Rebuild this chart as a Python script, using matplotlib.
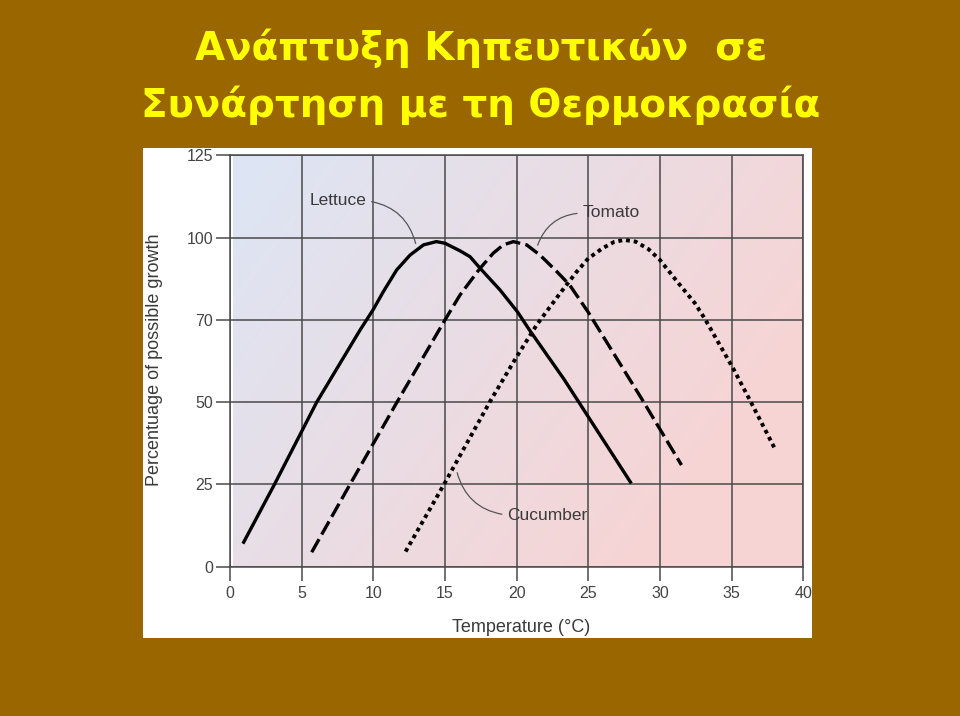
import matplotlib
matplotlib.use("Agg")
import matplotlib.pyplot as plt
import numpy as np
from matplotlib.patches import Rectangle

# values
lettuce_t = [0.9, 3.1, 6.05, 9.07, 10.0, 10.7, 11.63, 12.56, 13.5, 14.4, 15.0, 16.05,
             16.75, 17.45, 18.84, 20.05, 20.9, 23.3, 28.0]
lettuce_v = [7, 25, 50, 71.9, 78.2, 83.6, 90.2, 94.7, 97.8, 98.8, 98.3, 96.0,
             94.2, 90.7, 84.1, 77.5, 71.9, 57.0, 25.3]

tomato_t = [5.7, 8.37, 11.65, 15.0, 16.05, 17.45, 18.37, 19.07, 19.77, 20.7, 21.63,
            22.8, 23.7, 25.0, 26.7, 28.7, 31.5]
tomato_v = [4.4, 25, 50, 75, 82.6, 90.7, 95.3, 97.8, 98.8, 97.8, 94.7,
            89.7, 85.6, 77.3, 65.3, 51.2, 30.9]

cucumber_t = [12.25, 14.93, 18.14, 20.0, 21.4, 23.03, 24.2, 25.0, 26.0, 26.8, 27.5,
              28.3, 29.2, 30.0, 31.3, 32.45, 33.15, 35.1, 36.3, 38.0]
cucumber_v = [4.6, 25, 50.2, 63.8, 73.5, 83.1, 89.7, 93.7, 96.8, 98.7, 99.3,
              98.8, 96.5, 93.2, 86.1, 80.0, 75.2, 60.3, 50.4, 36.0]

x_ticks = [0, 5, 10, 15, 20, 25, 30, 35, 40]
y_ticks = [0, 25, 50, 75, 100, 125]
y_tick_labels = ['0', '25', '50', '70', '100', '125']

title_1 = "Ανάπτυξη Κηπευτικών  σε"
title_2 = "Συνάρτηση με τη Θερμοκρασία"

brown = '#996600'
grid_c = '#4a4a4a'
text_c = '#3a3a3a'

fig = plt.figure(figsize=(9.6, 7.16), dpi=100, facecolor=brown)
plt.rcParams['font.family'] = ['Liberation Sans', 'DejaVu Sans']

# white panel behind the chart
fig.patches.append(Rectangle((143 / 960, 1 - 638 / 716), 669 / 960, 490 / 716,
                             transform=fig.transFigure, facecolor='white',
                             edgecolor='none', zorder=-5))

# title
fig.text(0.501, 1 - 60 / 716, title_1, ha='center', va='baseline', color='#ffff00',
         fontsize=28, fontweight='bold', family='DejaVu Sans')
fig.text(0.501, 1 - 117 / 716, title_2, ha='center', va='baseline', color='#ffff00',
         fontsize=28, fontweight='bold', family='DejaVu Sans')

ax = fig.add_axes([230 / 960, 1 - 566.7 / 716, 573.3 / 960, 411.3 / 716])
ax.set_facecolor('none')

# soft blue -> pink background (blue at top left)
gx, gy = np.meshgrid(np.linspace(0, 1, 200), np.linspace(0, 1, 200))
t = np.clip(0.85 * gx + 0.45 * (1 - gy) - 0.05, 0, 1)[..., None]
blue = np.array([0.868, 0.898, 0.955])
pink = np.array([0.968, 0.832, 0.832])
ax.imshow(blue * (1 - t) + pink * t, extent=(0.2, 40, 0, 125.5), origin='lower',
          aspect='auto', zorder=0, interpolation='bilinear')

ax.plot(lettuce_t, lettuce_v, color='black', lw=2.4, solid_capstyle='butt', zorder=3)
ax.plot(tomato_t, tomato_v, color='black', lw=2.4, linestyle=(0, (4.5, 1.6)),
        dash_capstyle='butt', zorder=3)
ax.plot(cucumber_t, cucumber_v, color='black', lw=2.8, linestyle=(0, (1, 1.0)),
        dash_capstyle='butt', zorder=3)

ax.set_xlim(0, 40)
ax.set_ylim(0, 125)
ax.set_xticks(x_ticks)
ax.set_yticks(y_ticks)
ax.set_yticklabels(y_tick_labels)
ax.grid(True, color=grid_c, lw=1.1, zorder=1)
ax.set_axisbelow(True)
for s in ax.spines.values():
    s.set_color(grid_c)
    s.set_linewidth(1.1)
ax.tick_params(axis='both', length=10, width=1.1, color=grid_c, labelcolor='#444444',
               labelsize=11.5)
ax.tick_params(axis='x', pad=4)
ax.tick_params(axis='y', pad=2)

ax.set_xlabel("Temperature (°C)", fontsize=13, color=text_c, va='center')
ax.xaxis.set_label_coords(0.5076, -0.149)
ax.set_ylabel("Percentuage of possible growth", fontsize=13, color=text_c, va='center')
ax.yaxis.set_label_coords(-0.131, 0.502)

leader = dict(arrowstyle='-', color='#555555', lw=0.9)
ax.annotate("Lettuce", xy=(13.0, 97.4), xytext=(9.5, 111.2), ha='right', va='center',
            fontsize=12.5, color=text_c,
            arrowprops=dict(leader, relpos=(1, 0.5), connectionstyle='arc3,rad=-0.35'))
ax.annotate("Tomato", xy=(21.4, 96.9), xytext=(24.6, 107.5), ha='left', va='center',
            fontsize=12.5, color=text_c,
            arrowprops=dict(leader, relpos=(0, 0.5), connectionstyle='arc3,rad=0.35'))
ax.annotate("Cucumber", xy=(15.8, 29.4), xytext=(19.35, 15.7), ha='left', va='center',
            fontsize=12.5, color=text_c,
            arrowprops=dict(leader, relpos=(0, 0.5), connectionstyle='arc3,rad=-0.35'))

fig.savefig('out.png', dpi=100, facecolor=brown)
